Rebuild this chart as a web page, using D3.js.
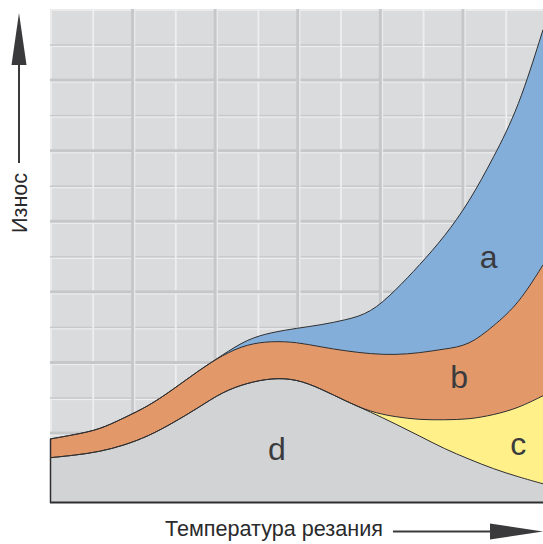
<!DOCTYPE html>
<html>
<head>
<meta charset="utf-8">
<script src="https://cdn.jsdelivr.net/npm/d3@7"></script>
<style>
  html, body { margin: 0; padding: 0; background: #ffffff; }
  svg { display: block; }
  text { font-family: "Liberation Sans", Arial, Helvetica, sans-serif; }
</style>
</head>
<body>
<svg id="chart" width="543" height="544"></svg>
<script>
// Cutting temperature (relative units) along the horizontal axis
const temperature = [0, 1, 2, 3, 4, 5, 6, 7, 8, 9, 10, 11, 12, 13, 14, 15, 16, 17, 18, 19, 20];

// Wear contributions of each mechanism (relative units), stacked bottom to top: d, c, b, a
const wearD = [9.0, 9.5, 10.2, 11.5, 13.4, 16.1, 19.1, 22.4, 24.2, 25.2, 25.0, 23.0, 20.5, 18.3, 15.9, 13.4, 10.8, 8.7, 6.7, 5.1, 3.7];
const wearC = [0, 0, 0, 0, 0, 0, 0, 0, 0, 0, 0, 0, 0, 0, 1.4, 3.3, 5.9, 8.1, 11.0, 14.0, 17.9];
const wearB = [3.8, 4.2, 4.5, 5.6, 6.1, 6.8, 7.5, 7.5, 7.9, 7.5, 7.5, 8.5, 10.2, 11.8, 12.6, 13.6, 14.4, 15.0, 18.1, 21.1, 26.6];
const wearA = [0, 0, 0, 0, 0, 0, 0, 0, 1.0, 1.8, 2.8, 4.5, 6.3, 8.3, 13.0, 17.9, 22.8, 29.1, 34.3, 39.8, 47.8];

const layerKeys = ["d", "c", "b", "a"];
const layerLabels = ["d", "c", "b", "a"];
const xLabel = "Температура резания";
const yLabel = "Износ";

const colors = { d: "#d2d3d5", c: "#fff08a", b: "#e29868", a: "#84aeda" };

const svg = d3.select("#chart");
const plot = { left: 50, right: 543, top: 9, bottom: 502 };

const x = d3.scaleLinear().domain([0, 20]).range([plot.left, plot.right]);
const y = d3.scaleLinear().domain([0, 100]).range([plot.bottom, plot.top + 1]);

const rows = temperature.map((t, i) => ({ t, d: wearD[i], c: wearC[i], b: wearB[i], a: wearA[i] }));
const series = d3.stack().keys(layerKeys)(rows);

// ---- tiled background ----
const defs = svg.append("defs");
defs.append("clipPath").attr("id", "plotClip")
  .append("rect")
  .attr("x", plot.left).attr("y", plot.top)
  .attr("width", plot.right - plot.left).attr("height", plot.bottom - plot.top);

const grid = svg.append("g").attr("clip-path", "url(#plotClip)");
grid.append("rect")
  .attr("x", plot.left).attr("y", plot.top)
  .attr("width", plot.right - plot.left).attr("height", plot.bottom - plot.top)
  .attr("fill", "#dadbdd");
// light rim along the top and left edge
grid.append("rect").attr("x", plot.left).attr("y", plot.top)
  .attr("width", plot.right - plot.left).attr("height", 2).attr("fill", "#ebebec");
grid.append("rect").attr("x", plot.left).attr("y", plot.top)
  .attr("width", 2).attr("height", plot.bottom - plot.top).attr("fill", "#ebebec");

const colStep = 82.6, rowStep = 70.6;
const minorX = d3.range(plot.left + colStep / 2 + 2, plot.right, colStep);
const majorX = d3.range(plot.left + colStep, plot.right + 4, colStep);
const minorY = d3.range(plot.top + rowStep / 2 + 1, plot.bottom, rowStep);
const majorY = d3.range(plot.top + rowStep + 0.5, plot.bottom, rowStep);

// minor horizontal joints: shadow line with a highlight underneath
minorY.forEach(yy => {
  grid.append("rect").attr("x", plot.left).attr("y", yy - 1)
    .attr("width", plot.right - plot.left).attr("height", 1.6).attr("fill", "#c7c8ca");
  grid.append("rect").attr("x", plot.left).attr("y", yy + 0.6)
    .attr("width", plot.right - plot.left).attr("height", 1.2).attr("fill", "#eeeeef");
});
// minor vertical joints: light line
minorX.forEach(xx => {
  grid.append("rect").attr("x", xx - 1).attr("y", plot.top)
    .attr("width", 1.8).attr("height", plot.bottom - plot.top).attr("fill", "#eeeeef");
});
// major joints: wider shadow with a highlight edge
majorY.forEach(yy => {
  grid.append("rect").attr("x", plot.left).attr("y", yy - 1.5)
    .attr("width", plot.right - plot.left).attr("height", 3).attr("fill", "#c6c7c9");
  grid.append("rect").attr("x", plot.left).attr("y", yy + 1.5)
    .attr("width", plot.right - plot.left).attr("height", 1.2).attr("fill", "#ececed");
});
majorX.forEach(xx => {
  grid.append("rect").attr("x", xx - 1.5).attr("y", plot.top)
    .attr("width", 3).attr("height", plot.bottom - plot.top).attr("fill", "#c6c7c9");
  grid.append("rect").attr("x", xx + 1.5).attr("y", plot.top)
    .attr("width", 1.2).attr("height", plot.bottom - plot.top).attr("fill", "#ececed");
});

// ---- stacked wear layers ----
const curve = d3.curveBasis;
const area = d3.area()
  .x(d => x(d.data.t))
  .y0(d => y(d[0]))
  .y1(d => y(d[1]))
  .curve(curve);
const topLine = d3.line()
  .x(d => x(d.data.t))
  .y(d => y(d[1]))
  .curve(curve);

const layers = svg.append("g").attr("clip-path", "url(#plotClip)");
layers.selectAll("path.area")
  .data(series)
  .join("path")
  .attr("class", "area")
  .attr("fill", s => colors[s.key])
  .attr("d", area);
layers.selectAll("path.edge")
  .data(series)
  .join("path")
  .attr("class", "edge")
  .attr("fill", "none")
  .attr("stroke", "#2e2e30")
  .attr("stroke-width", 1)
  .attr("d", topLine);

// frame: left edge of the stack and the base line
const top0 = series[series.length - 1][0][1];
svg.append("line")
  .attr("x1", x(0) + 0.5).attr("x2", x(0) + 0.5)
  .attr("y1", y(top0)).attr("y2", y(0) + 1)
  .attr("stroke", "#2e2e30").attr("stroke-width", 1.5);
svg.append("line")
  .attr("x1", x(0)).attr("x2", plot.right)
  .attr("y1", y(0) + 0.5).attr("y2", y(0) + 0.5)
  .attr("stroke", "#2e2e30").attr("stroke-width", 1.8);

// layer letters
const labelPos = [
  { key: "d", t: 9.2, v: 8.6 },
  { key: "c", t: 19.0, v: 9.6 },
  { key: "b", t: 16.6, v: 23.2 },
  { key: "a", t: 17.8, v: 47.6 }
];
svg.selectAll("text.layer")
  .data(labelPos)
  .join("text")
  .attr("class", "layer")
  .attr("x", d => x(d.t))
  .attr("y", d => y(d.v))
  .attr("text-anchor", "middle")
  .attr("font-size", 32)
  .attr("fill", "#3b3b3e")
  .text(d => layerLabels[layerKeys.indexOf(d.key)]);

// ---- axis captions with arrows ----
const ink = "#3a3a3d";
svg.append("text")
  .attr("x", 165).attr("y", 536)
  .attr("font-size", 21.6)
  .attr("fill", "#2a2a2c")
  .text(xLabel);
svg.append("line")
  .attr("x1", 393).attr("x2", 492)
  .attr("y1", 531.5).attr("y2", 531.5)
  .attr("stroke", ink).attr("stroke-width", 2);
svg.append("path")
  .attr("d", "M490,523.5 L543,531.5 L490,539.5 Z")
  .attr("fill", ink);

svg.append("text")
  .attr("transform", "translate(26.5,233) rotate(-90)")
  .attr("font-size", 21.6)
  .attr("fill", "#2a2a2c")
  .text(yLabel);
svg.append("line")
  .attr("x1", 19).attr("x2", 19)
  .attr("y1", 163).attr("y2", 62)
  .attr("stroke", ink).attr("stroke-width", 2);
svg.append("path")
  .attr("d", "M11.5,65 L19,13 L26.5,65 Z")
  .attr("fill", ink);
</script>
</body>
</html>
